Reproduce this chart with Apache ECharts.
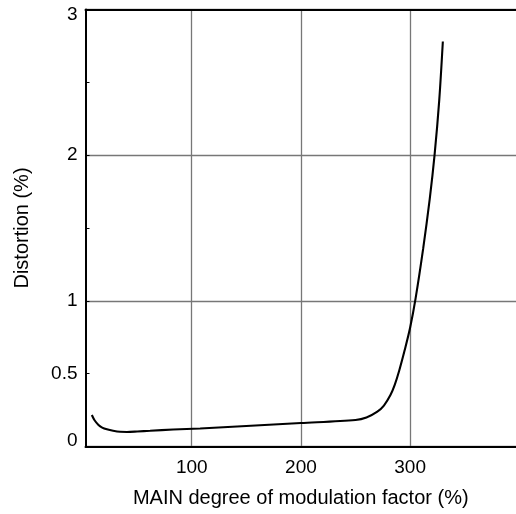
<!DOCTYPE html>
<html>
<head>
<meta charset="utf-8">
<script src="https://cdn.jsdelivr.net/npm/echarts@6/dist/echarts.min.js"></script>
<style>
html,body{margin:0;padding:0;background:#fff;}
#c{width:516px;height:514px;}
</style>
</head>
<body>
<div id="c"></div>
<script>
// Data
const xValues = [8.5, 11, 14.6, 18, 22.3, 28, 34.4, 40.6, 50, 61.9, 83, 107.7, 150, 200, 250, 260, 270, 276, 282, 286, 290, 295, 300, 305, 312, 318, 322.4, 326.7, 330];
const yValues = [0.216, 0.18, 0.148, 0.13, 0.118, 0.108, 0.101, 0.1, 0.103, 0.108, 0.117, 0.124, 0.141, 0.161, 0.182, 0.199, 0.239, 0.281, 0.353, 0.425, 0.52, 0.66, 0.815, 1.015, 1.36, 1.70, 2.0, 2.378, 2.78];
const xTickLabels = [100, 200, 300];
const yTickLabels = [0, 0.5, 1, 2, 3];
const xTitle = 'MAIN degree of modulation factor (%)';
const yTitle = 'Distortion (%)';

const FONT = 'Liberation Sans, Arial, sans-serif';
const chart = echarts.init(document.getElementById('c'), null, {renderer: 'canvas'});
const points = xValues.map((x, i) => [x, yValues[i]]);
const yMin = 0, yMax = 3;

chart.setOption({
  animation: false,
  backgroundColor: '#fff',
  grid: {left: 85.5, top: 9.5, right: 0, height: 437, containLabel: false},
  xAxis: [{
    type: 'value', min: 2.7, max: 397, position: 'bottom',
    name: xTitle, nameLocation: 'middle', nameGap: 42,
    nameTextStyle: {fontFamily: FONT, fontSize: 20, color: '#000'},
    axisLine: {show: true, onZero: false, lineStyle: {color: '#000', width: 2}},
    axisTick: {show: false, customValues: xTickLabels},
    axisLabel: {
      customValues: xTickLabels,
      fontFamily: FONT, fontSize: 19, color: '#000', margin: 12,
      formatter: v => xTickLabels.indexOf(v) >= 0 ? String(v) : ''
    },
    splitLine: {show: true, lineStyle: {color: '#777', width: 1.3}}
  }, {
    type: 'value', min: 2.7, max: 397, position: 'top',
    axisLine: {show: true, onZero: false, lineStyle: {color: '#000', width: 2}},
    axisTick: {show: false}, axisLabel: {show: false}, splitLine: {show: false}
  }],
  yAxis: [{
    type: 'value', min: yMin, max: yMax, interval: 0.5, position: 'left',
    name: yTitle, nameLocation: 'middle', nameGap: 53,
    nameTextStyle: {fontFamily: FONT, fontSize: 20, color: '#000'},
    axisLine: {show: true, onZero: false, lineStyle: {color: '#000', width: 2}},
    axisTick: {show: true, inside: true, length: 4, lineStyle: {color: '#000', width: 1}},
    axisLabel: {
      fontFamily: FONT, fontSize: 19, color: '#000', margin: 8,
      formatter: v => {
        if (yTickLabels.indexOf(v) < 0) return '';
        if (v === yMax) return '{t|' + v + '}';
        if (v === yMin) return '{b|' + v + '}';
        return String(v);
      },
      rich: {
        t: {fontFamily: FONT, fontSize: 19, color: '#000', padding: [11, 0, 0, 0]},
        b: {fontFamily: FONT, fontSize: 19, color: '#000', padding: [0, 0, 12, 0]}
      }
    },
    splitLine: {show: false}
  }, {
    type: 'value', min: yMin, max: yMax, interval: 1, position: 'left',
    axisLine: {show: false}, axisTick: {show: false}, axisLabel: {show: false},
    splitLine: {show: true, lineStyle: {color: '#777', width: 1.3}}
  }],
  series: [{
    type: 'line',
    data: points,
    xAxisIndex: 0, yAxisIndex: 0,
    smooth: 0.3,
    symbol: 'none',
    lineStyle: {color: '#000', width: 2.1},
    z: 5
  }]
});
</script>
</body>
</html>
